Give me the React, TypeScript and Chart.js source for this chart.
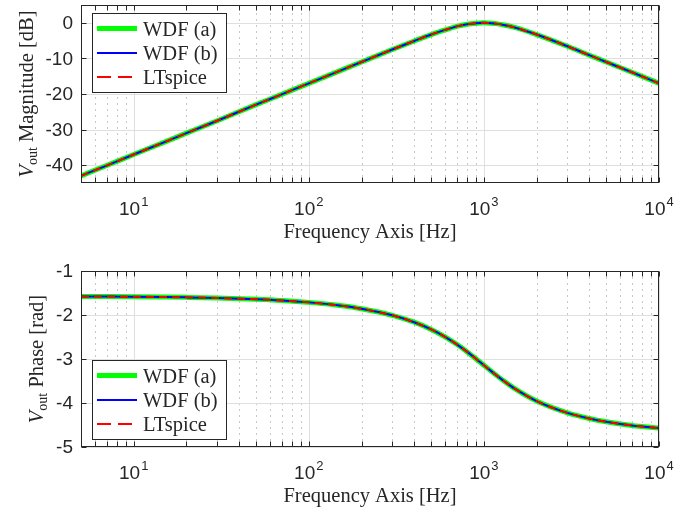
import React, { useEffect, useRef } from 'react';
import { Chart, registerables } from 'chart.js';

Chart.register(...registerables);

// ---- data ----
const freqHz = [5, 7, 10, 15, 20, 30, 50, 70, 100, 150, 200, 300, 400, 500, 600, 700, 800, 900, 1000, 1100, 1200, 1300, 1500, 2000, 3000, 4000, 5000, 7000, 10000];

const magWdfA = [-43.0, -40.1, -37.0, -33.5, -31.0, -27.5, -23.0, -20.1, -17.0, -13.5, -11.0, -7.5, -5.1, -3.3, -2.0, -1.0, -0.4, -0.1, 0.0, -0.1, -0.3, -0.6, -1.3, -3.3, -6.6, -9.1, -11.0, -13.9, -17.0];
const magWdfB = [-43.0, -40.1, -37.0, -33.5, -31.0, -27.5, -23.0, -20.1, -17.0, -13.5, -11.0, -7.5, -5.1, -3.3, -2.0, -1.0, -0.4, -0.1, 0.0, -0.1, -0.3, -0.6, -1.3, -3.3, -6.6, -9.1, -11.0, -13.9, -17.0];
const magLtspice = [-43.0, -40.1, -37.0, -33.5, -31.0, -27.5, -23.0, -20.1, -17.0, -13.5, -11.0, -7.5, -5.1, -3.3, -2.0, -1.0, -0.4, -0.1, 0.0, -0.1, -0.3, -0.6, -1.3, -3.3, -6.6, -9.1, -11.0, -13.9, -17.0];

const phaseWdfA = [-1.578, -1.581, -1.585, -1.592, -1.599, -1.613, -1.642, -1.670, -1.713, -1.784, -1.857, -2.007, -2.164, -2.327, -2.496, -2.666, -2.833, -2.993, -3.142, -3.276, -3.395, -3.500, -3.674, -3.956, -4.225, -4.352, -4.426, -4.509, -4.570];
const phaseWdfB = [-1.578, -1.581, -1.585, -1.592, -1.599, -1.613, -1.642, -1.670, -1.713, -1.784, -1.857, -2.007, -2.164, -2.327, -2.496, -2.666, -2.833, -2.993, -3.142, -3.276, -3.395, -3.500, -3.674, -3.956, -4.225, -4.352, -4.426, -4.509, -4.570];
const phaseLtspice = [-1.578, -1.581, -1.585, -1.592, -1.599, -1.613, -1.642, -1.670, -1.713, -1.784, -1.857, -2.007, -2.164, -2.327, -2.496, -2.666, -2.833, -2.993, -3.142, -3.276, -3.395, -3.500, -3.674, -3.956, -4.225, -4.352, -4.426, -4.509, -4.570];

const seriesNames = ['WDF (a)', 'WDF (b)', 'LTspice'];
const xDecades = [10, 100, 1000, 10000];
const xDecadeExponents = ['1', '2', '3', '4'];
const xMin = 5;
const xMax = 10000;
const magTicks = [-40, -30, -20, -10, 0];
const phaseTicks = [-5, -4, -3, -2, -1];
const xTitle = 'Frequency Axis [Hz]';

// ---- styles ----
const AX = '#262626';
const MAJOR_GRID = '#dfdfdf';
const MINOR_GRID = '#c8c8c8';
const GREEN = '#00ff00';
const BLUE = '#0000ff';
const RED = '#ff0000';
const SERIF = '"Liberation Serif", "Times New Roman", serif';
const SANS = '"Liberation Sans", Arial, sans-serif';

function minorXValues(): number[] {
  const out: number[] = [];
  for (const d of [1, 10, 100, 1000]) {
    for (let m = 2; m <= 9; m++) {
      const v = m * d;
      if (v >= xMin && v <= xMax) out.push(v);
    }
  }
  return out;
}

type Panel = {
  width: number;
  height: number;
  pad: { left: number; right: number; top: number; bottom: number };
  yMin: number;
  yMax: number;
  yTicks: number[];
  yTitleRest: string;
  yTitleX: number;
  legendTop: number;
  values: number[][];
};

function makePlugin(p: Panel) {
  return {
    id: 'matlabAxes',
    beforeDatasetsDraw(chart: any) {
      const { ctx, chartArea: a, scales } = chart;
      const xs = scales.x;
      const ys = scales.y;
      ctx.save();
      ctx.lineWidth = 1;
      // minor dotted grid
      ctx.strokeStyle = MINOR_GRID;
      ctx.setLineDash([2, 4]);
      for (const v of minorXValues()) {
        const px = Math.round(xs.getPixelForValue(v)) + 0.5;
        ctx.beginPath();
        ctx.moveTo(px, a.bottom);
        ctx.lineTo(px, a.top);
        ctx.stroke();
      }
      ctx.setLineDash([]);
      // major grid
      ctx.strokeStyle = MAJOR_GRID;
      for (const v of xDecades) {
        const px = Math.round(xs.getPixelForValue(v)) + 0.5;
        ctx.beginPath();
        ctx.moveTo(px, a.bottom);
        ctx.lineTo(px, a.top);
        ctx.stroke();
      }
      for (const v of p.yTicks) {
        const py = Math.round(ys.getPixelForValue(v)) + 0.5;
        ctx.beginPath();
        ctx.moveTo(a.left, py);
        ctx.lineTo(a.right, py);
        ctx.stroke();
      }
      ctx.restore();
    },
    afterDatasetsDraw(chart: any) {
      const { ctx, chartArea: a, scales } = chart;
      const xs = scales.x;
      const ys = scales.y;
      ctx.save();
      ctx.strokeStyle = AX;
      ctx.lineWidth = 1;
      const L = Math.round(a.left) + 0.5;
      const R = Math.round(a.right) - 0.5;
      const T = Math.round(a.top) + 0.5;
      const B = Math.round(a.bottom) - 0.5;
      ctx.strokeRect(L, T, R - L, B - T);
      // ticks (inside, all four sides)
      const tl = 5;
      ctx.beginPath();
      for (const v of [...xDecades, ...minorXValues()]) {
        const px = Math.round(xs.getPixelForValue(v)) + 0.5;
        ctx.moveTo(px, B);
        ctx.lineTo(px, B - tl);
        ctx.moveTo(px, T);
        ctx.lineTo(px, T + tl);
      }
      for (const v of p.yTicks) {
        const py = Math.round(ys.getPixelForValue(v)) + 0.5;
        ctx.moveTo(L, py);
        ctx.lineTo(L + tl, py);
        ctx.moveTo(R, py);
        ctx.lineTo(R - tl, py);
      }
      ctx.stroke();

      // y tick labels
      ctx.fillStyle = AX;
      ctx.font = `19px ${SANS}`;
      ctx.textAlign = 'right';
      ctx.textBaseline = 'middle';
      for (const v of p.yTicks) {
        ctx.fillText(String(v), a.left - 8, ys.getPixelForValue(v) + 1);
      }

      // x tick labels 10^n
      const baseFont = `19px ${SANS}`;
      const expFont = `13px ${SANS}`;
      ctx.textBaseline = 'alphabetic';
      ctx.textAlign = 'left';
      xDecades.forEach((v, i) => {
        const px = xs.getPixelForValue(v);
        ctx.font = baseFont;
        const wb = ctx.measureText('10').width;
        ctx.font = expFont;
        const we = ctx.measureText(xDecadeExponents[i]).width;
        const start = px - (wb + we + 1) / 2;
        const baseY = a.bottom + 32;
        ctx.font = baseFont;
        ctx.fillText('10', start, baseY);
        ctx.font = expFont;
        ctx.fillText(xDecadeExponents[i], start + wb + 1, baseY - 9);
      });

      // x title
      ctx.font = `20.5px ${SERIF}`;
      ctx.textAlign = 'center';
      ctx.fillText(xTitle, (a.left + a.right) / 2, a.bottom + 55);

      // y title with V_out
      const cy = (a.top + a.bottom) / 2;
      ctx.save();
      ctx.translate(p.yTitleX, cy);
      ctx.rotate(-Math.PI / 2);
      ctx.textAlign = 'left';
      const vFont = `italic 20.5px ${SERIF}`;
      const subFont = `14px ${SERIF}`;
      const restFont = `20.5px ${SERIF}`;
      ctx.font = vFont;
      const wV = ctx.measureText('V').width;
      ctx.font = subFont;
      const wSub = ctx.measureText('out').width;
      ctx.font = restFont;
      const wRest = ctx.measureText(p.yTitleRest).width;
      const total = wV + wSub + wRest;
      let sx = -total / 2;
      ctx.font = vFont;
      ctx.fillText('V', sx, 0);
      sx += wV;
      ctx.font = subFont;
      ctx.fillText('out', sx, 4);
      sx += wSub;
      ctx.font = restFont;
      ctx.fillText(p.yTitleRest, sx, 0);
      ctx.restore();

      // legend
      const lx = 92.5;
      const ly = p.legendTop + 0.5;
      const lw = 134;
      const lh = 79;
      ctx.fillStyle = '#ffffff';
      ctx.fillRect(lx, ly, lw, lh);
      ctx.strokeStyle = AX;
      ctx.lineWidth = 1;
      ctx.strokeRect(lx, ly, lw, lh);
      const rows = [15.5, 40, 64];
      const styles = [
        { c: GREEN, w: 5, d: [] as number[] },
        { c: BLUE, w: 2, d: [] as number[] },
        { c: RED, w: 2, d: [14, 7] },
      ];
      ctx.font = `20.5px ${SERIF}`;
      ctx.textAlign = 'left';
      ctx.textBaseline = 'alphabetic';
      rows.forEach((r, i) => {
        const yy = p.legendTop + r;
        ctx.strokeStyle = styles[i].c;
        ctx.lineWidth = styles[i].w;
        ctx.setLineDash(styles[i].d);
        ctx.lineDashOffset = 0;
        ctx.beginPath();
        ctx.moveTo(97, yy);
        ctx.lineTo(137, yy);
        ctx.stroke();
        ctx.setLineDash([]);
        ctx.fillStyle = AX;
        ctx.fillText(seriesNames[i], 143, yy + 7);
      });
      ctx.restore();
    },
  };
}

function PanelChart({ panel }: { panel: Panel }) {
  const ref = useRef<HTMLCanvasElement | null>(null);
  useEffect(() => {
    if (!ref.current) return;
    const mk = (vals: number[]) => freqHz.map((f, i) => ({ x: f, y: vals[i] }));
    const chart = new Chart(ref.current, {
      type: 'line',
      data: {
        datasets: [
          {
            label: seriesNames[0],
            data: mk(panel.values[0]),
            borderColor: GREEN,
            borderWidth: 5,
            pointRadius: 0,
            cubicInterpolationMode: 'monotone',
            order: 3,
          },
          {
            label: seriesNames[1],
            data: mk(panel.values[1]),
            borderColor: BLUE,
            borderWidth: 2,
            pointRadius: 0,
            cubicInterpolationMode: 'monotone',
            order: 2,
          },
          {
            label: seriesNames[2],
            data: mk(panel.values[2]),
            borderColor: RED,
            borderWidth: 2,
            borderDash: [8, 5],
            pointRadius: 0,
            cubicInterpolationMode: 'monotone',
            order: 1,
          },
        ],
      },
      options: {
        animation: false,
        responsive: false,
        devicePixelRatio: 1,
        layout: { padding: panel.pad },
        plugins: { legend: { display: false }, tooltip: { enabled: false } },
        events: [],
        scales: {
          x: { type: 'logarithmic', min: xMin, max: xMax, display: false },
          y: { type: 'linear', min: panel.yMin, max: panel.yMax, display: false },
        },
      },
      plugins: [makePlugin(panel)],
    } as any);
    return () => chart.destroy();
  }, [panel]);
  return (
    <canvas
      ref={ref}
      width={panel.width}
      height={panel.height}
      style={{ display: 'block', width: panel.width, height: panel.height }}
    />
  );
}

const topPanel: Panel = {
  width: 687,
  height: 254,
  pad: { left: 81, right: 28, top: 5, bottom: 71 },
  yMin: -45,
  yMax: 5,
  yTicks: magTicks,
  yTitleRest: ' Magnitude [dB]',
  yTitleX: 33,
  legendTop: 13,
  values: [magWdfA, magWdfB, magLtspice],
};

const bottomPanel: Panel = {
  width: 687,
  height: 255,
  pad: { left: 81, right: 28, top: 17, bottom: 62 },
  yMin: -5,
  yMax: -1,
  yTicks: phaseTicks,
  yTitleRest: ' Phase [rad]',
  yTitleX: 43,
  legendTop: 360 - 254,
  values: [phaseWdfA, phaseWdfB, phaseLtspice],
};

export default function App() {
  return (
    <div style={{ position: 'absolute', left: 0, top: 0, width: 687, height: 509, background: '#ffffff' }}>
      <PanelChart panel={topPanel} />
      <PanelChart panel={bottomPanel} />
    </div>
  );
}
